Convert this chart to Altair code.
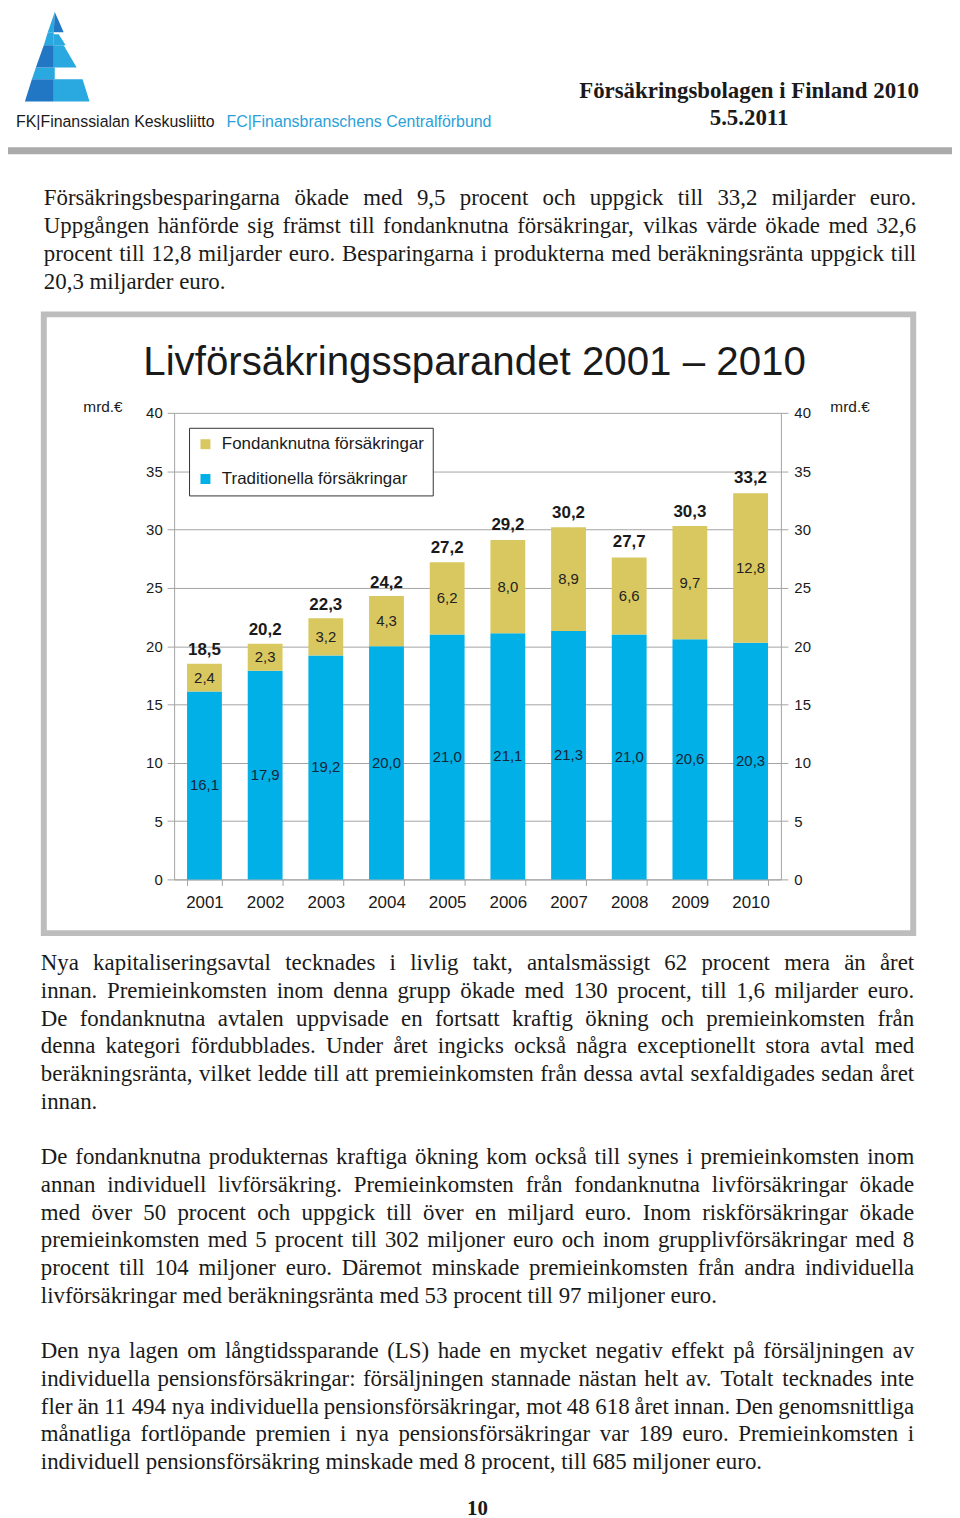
import altair as alt
import pandas as pd

# ---------------- data ----------------
years = ['2001', '2002', '2003', '2004', '2005', '2006', '2007', '2008', '2009', '2010']
trad = [16.1, 17.9, 19.2, 20.0, 21.0, 21.1, 21.3, 21.0, 20.6, 20.3]
fond = [2.4, 2.3, 3.2, 4.3, 6.2, 8.0, 8.9, 6.6, 9.7, 12.8]
totals = [18.5, 20.2, 22.3, 24.2, 27.2, 29.2, 30.2, 27.7, 30.3, 33.2]
series = ['Fondanknutna försäkringar', 'Traditionella försäkringar']
y_ticks = [0, 5, 10, 15, 20, 25, 30, 35, 40]

chart_title = 'Livförsäkringssparandet 2001 – 2010'
unit = 'mrd.€'
header_title = 'Försäkringsbolagen i Finland 2010'
header_date = '5.5.2011'
org_fi = 'FK|Finanssialan Keskusliitto'
org_sv = 'FC|Finansbranschens Centralförbund'
page_no = '10'

para1 = [
    'Försäkringsbesparingarna ökade med 9,5 procent och uppgick till 33,2 miljarder euro.',
    'Uppgången hänförde sig främst till fondanknutna försäkringar, vilkas värde ökade med 32,6',
    'procent till 12,8 miljarder euro. Besparingarna i produkterna med beräkningsränta uppgick till',
    '20,3 miljarder euro.',
]
para2 = [
    'Nya kapitaliseringsavtal tecknades i livlig takt, antalsmässigt 62 procent mera än året',
    'innan. Premieinkomsten inom denna grupp ökade med 130 procent, till 1,6 miljarder euro.',
    'De fondanknutna avtalen uppvisade en fortsatt kraftig ökning och premieinkomsten från',
    'denna kategori fördubblades. Under året ingicks också några exceptionellt stora avtal med',
    'beräkningsränta, vilket ledde till att premieinkomsten från dessa avtal sexfaldigades sedan året',
    'innan.',
]
para3 = [
    'De fondanknutna produkternas kraftiga ökning kom också till synes i premieinkomsten inom',
    'annan individuell livförsäkring. Premieinkomsten från fondanknutna livförsäkringar ökade',
    'med över 50 procent och uppgick till över en miljard euro. Inom riskförsäkringar ökade',
    'premieinkomsten med 5 procent till 302 miljoner euro och inom grupplivförsäkringar med 8',
    'procent till 104 miljoner euro. Däremot minskade premieinkomsten från andra individuella',
    'livförsäkringar med beräkningsränta med 53 procent till 97 miljoner euro.',
]
para4 = [
    'Den nya lagen om långtidssparande (LS) hade en mycket negativ effekt på försäljningen av',
    'individuella pensionsförsäkringar: försäljningen stannade nästan helt av. Totalt tecknades inte',
    'fler än 11\u00a0494 nya individuella pensionsförsäkringar, mot 48\u00a0618 året innan. Den genomsnittliga',
    'månatliga fortlöpande premien i nya pensionsförsäkringar var 189 euro. Premieinkomsten i',
    'individuell pensionsförsäkring minskade med 8 procent, till 685 miljoner euro.',
]

# ---------------- styling ----------------
SANS = 'Liberation Sans, Arial, sans-serif'
SERIF = 'Liberation Serif, Times New Roman, serif'
BLUE = '#00b0e6'
YEL = '#d9c860'
GRAY = '#a3a3a3'
INK = '#1a1a1a'
BODY = 23
LH = 28

# Times-compatible advance widths (1/1000 em) for justification
TW = {' ': 250, ',': 250, '.': 250, ':': 278, '(': 333, ')': 333, '-': 333, '\u00a0': 250}
for d in '0123456789':
    TW[d] = 500
TW.update(dict(a=444, b=500, c=444, d=500, e=444, f=333, g=500, h=500, i=278, j=278, k=500,
               l=278, m=778, n=500, o=500, p=500, q=500, r=333, s=389, t=278, u=500, v=500,
               w=722, x=500, y=500, z=444))
TW.update(dict(A=722, B=667, C=667, D=722, E=611, F=556, G=722, H=722, I=333, J=389, K=722,
               L=611, M=889, N=722, O=722, P=556, Q=722, R=667, S=556, T=611, U=722, V=722,
               W=944, X=722, Y=722, Z=611))
TW.update({'ä': 444, 'å': 444, 'ö': 500, 'Ä': 722, 'Å': 722, 'Ö': 722})


def tw(s):
    return sum(TW.get(c, 500) for c in s) * BODY / 1000.0


def para_words(lines, x0, x1, base0):
    left, right = [], []
    for i, line in enumerate(lines):
        words = line.split(' ')
        y = base0 + i * LH
        last = (i == len(lines) - 1)
        widths = [tw(w) for w in words]
        if last or len(words) == 1:
            gap = tw(' ')
        else:
            gap = (x1 - x0 - sum(widths)) / (len(words) - 1)
        x = x0
        for j, (w, wd) in enumerate(zip(words, widths)):
            if (not last) and j == len(words) - 1 and len(words) > 1:
                right.append({'w': w, 'x': x1, 'y': y})
            else:
                left.append({'w': w, 'x': x, 'y': y})
            x += wd + gap
    return left, right


def text_layer(rows, align='left', font=SERIF, size=BODY, weight='normal', color=INK):
    df = pd.DataFrame(rows)
    return alt.Chart(df).mark_text(align=align, baseline='alphabetic', font=font, fontSize=size,
                                   fontWeight=weight, color=color).encode(
        x=alt.X('x:Q', scale=None, axis=None),
        y=alt.Y('y:Q', scale=None, axis=None),
        text='w:N')


def paragraph_layers(lines, x0, x1, base0):
    l, r = para_words(lines, x0, x1, base0)
    layers = [text_layer(l)]
    if r:
        layers.append(text_layer(r, align='right'))
    return layers


# ---------------- panel A: header, first paragraph, frame ----------------
def poly(pts):
    # page coordinates -> panel coordinates (logo squeezed into the visible top area)
    return 'M' + ' L'.join(f'{x - 8:.1f},{(y - 2) * 90 / 97:.1f}' for x, y in pts) + ' Z'

LB = '#2aa9e0'
DB = '#2277c4'
logo_light = pd.DataFrame({'p': [
    poly([(55, 2), (54, 24), (48, 24)]),
    poly([(48, 24), (54, 24), (54, 38), (44, 38)]),
    poly([(54, 26), (59, 26), (66, 38), (54, 38)]),
    poly([(54, 38), (64, 38), (77, 62), (54, 62)]),
    poly([(36, 62), (55, 62), (55, 75), (32, 75)]),
    poly([(54, 75), (83, 75), (90, 99), (54, 99)]),
]})
logo_dark = pd.DataFrame({'p': [
    poly([(55, 2), (64, 24), (54, 24)]),
    poly([(44, 38), (54, 38), (54, 62), (36, 62)]),
    poly([(32, 75), (54, 75), (54, 99), (25, 99)]),
]})


def logo_layer(df, col):
    return alt.Chart(df).mark_point(filled=True, opacity=1, strokeWidth=0, size=4, color=col).encode(
        x=alt.value(0), y=alt.value(0),
        shape=alt.Shape('p:N', scale=None, legend=None))


boxes = pd.DataFrame([{'x': 0, 'x2': 949, 'y': 136, 'y2': 143}])
gray_bar = alt.Chart(boxes).mark_rect(color='#ababab').encode(
    x=alt.X('x:Q', scale=None, axis=None), x2='x2:Q',
    y=alt.Y('y:Q', scale=None, axis=None), y2='y2:Q')

frame = pd.DataFrame([{'x': 36, 'x2': 910, 'y': 304, 'y2': 926}])
frame_layer = alt.Chart(frame).mark_rect(fillOpacity=0, stroke='#bdbdbd', strokeWidth=6).encode(
    x=alt.X('x:Q', scale=None, axis=None), x2='x2:Q',
    y=alt.Y('y:Q', scale=None, axis=None), y2='y2:Q')

hdr = [
    text_layer([{'w': org_fi, 'x': 8, 'y': 116}], font=SANS, size=16, color=INK),
    text_layer([{'w': org_sv, 'x': 486, 'y': 116}], align='right', font=SANS, size=16,
               color='#2b9fd9'),
    text_layer([{'w': header_title, 'x': 745, 'y': 86}], align='center', size=23, weight='bold'),
    text_layer([{'w': header_date, 'x': 745, 'y': 114}], align='center', size=23, weight='bold'),
    text_layer([{'w': chart_title, 'x': 469, 'y': 365}], align='center', font=SANS, size=40.5,
               color=INK),
]

panelA = alt.layer(logo_layer(logo_light, LB), logo_layer(logo_dark, DB), gray_bar, frame_layer,
                   *hdr, *paragraph_layers(para1, 36, 913, 194)).properties(width=944, height=403)

# ---------------- panel B: the bar chart ----------------
def fmt(v):
    return f'{v:.1f}'.replace('.', ',')

rows = []
for i, yr in enumerate(years):
    rows.append({'year': yr, 'typ': series[1], 'value': trad[i], 'ord': 0,
                 'mid': trad[i] / 2, 'label': fmt(trad[i])})
    rows.append({'year': yr, 'typ': series[0], 'value': fond[i], 'ord': 1,
                 'mid': trad[i] + fond[i] / 2, 'label': fmt(fond[i])})
seg = pd.DataFrame(rows)
tot = pd.DataFrame({'year': years, 'total': totals, 'label': [fmt(v) for v in totals]})

yscale = alt.Scale(domain=[0, 40], nice=False)
xenc = alt.X('year:O', sort=years,
             scale=alt.Scale(paddingInner=0.426, paddingOuter=0.213),
             axis=alt.Axis(title=None, labelAngle=0, tickBand='extent', tickSize=6,
                           labelFontSize=17, labelFont=SANS, labelColor=INK, labelPadding=9,
                           grid=False))

bars = alt.Chart(seg).mark_bar().encode(
    x=xenc,
    y=alt.Y('value:Q', stack='zero', scale=yscale,
            axis=alt.Axis(orient='left', values=y_ticks, grid=True, tickSize=7, labelPadding=5,
                          labelFont=SANS, labelFontSize=15, labelColor=INK,
                          title=unit, titleAngle=0, titleX=-72, titleY=-6, titleAlign='center',
                          titleBaseline='middle', titleFont=SANS, titleFontSize=15.5,
                          titleFontWeight='normal', titleColor=INK)),
    color=alt.Color('typ:N', scale=alt.Scale(domain=series, range=[YEL, BLUE]),
                    legend=alt.Legend(orient='none', legendX=15, legendY=15, title=None,
                                      direction='vertical', symbolType='square', symbolSize=100,
                                      symbolStrokeWidth=0, labelFont=SANS, labelFontSize=17,
                                      labelColor=INK, labelOffset=8, padding=8, rowPadding=17,
                                      strokeColor='#333333', fillColor='white', labelLimit=400)),
    order=alt.Order('ord:Q', sort='ascending'),
)


def seg_text(df, col):
    return alt.Chart(df).mark_text(font=SANS, fontSize=15, baseline='middle', color=col).encode(
        x=alt.X('year:O', sort=years),
        y=alt.Y('mid:Q', scale=yscale, axis=None),
        text='label:N')


trad_labels = seg_text(seg[seg['ord'] == 0], '#14263a')
fond_labels = seg_text(seg[seg['ord'] == 1], '#222222')

tot_labels = alt.Chart(tot).mark_text(font=SANS, fontSize=17, fontWeight='bold',
                                      baseline='middle', dy=-14, color=INK).encode(
    x=alt.X('year:O', sort=years),
    y=alt.Y('total:Q', scale=yscale,
            axis=alt.Axis(orient='right', values=y_ticks, grid=False, tickSize=7, labelPadding=6,
                          labelFont=SANS, labelFontSize=15, labelColor=INK,
                          title=unit, titleAngle=0, titleX=69, titleY=-6, titleAlign='center',
                          titleBaseline='middle', titleFont=SANS, titleFontSize=15.5,
                          titleFontWeight='normal', titleColor=INK)),
    text='label:N')

panelB = alt.layer(bars, trad_labels, fond_labels, tot_labels).resolve_scale(
    y='independent').properties(width=610, height=469)

# ---------------- panel C: remaining text ----------------
layersC = []
layersC += paragraph_layers(para2, 33, 911, 91)
layersC += paragraph_layers(para3, 33, 911, 286)
layersC += paragraph_layers(para4, 33, 911, 481)
layersC.append(text_layer([{'w': page_no, 'x': 472, 'y': 639}], align='center', size=21,
                          weight='bold'))
panelC = alt.layer(*layersC).properties(width=944, height=630)

chart = alt.vconcat(panelA, panelB, panelC, spacing=0, bounds='flush', center=True).resolve_scale(
    color='independent', shape='independent').resolve_legend(
    color='independent', shape='independent').properties(
    padding=0, background='white'
).configure_view(stroke=None).configure_axis(
    domainColor=GRAY, tickColor=GRAY, gridColor=GRAY, domainWidth=1, tickWidth=1, gridWidth=1
)

chart.save('out.html', embed_options={'renderer': 'svg', 'actions': False})
